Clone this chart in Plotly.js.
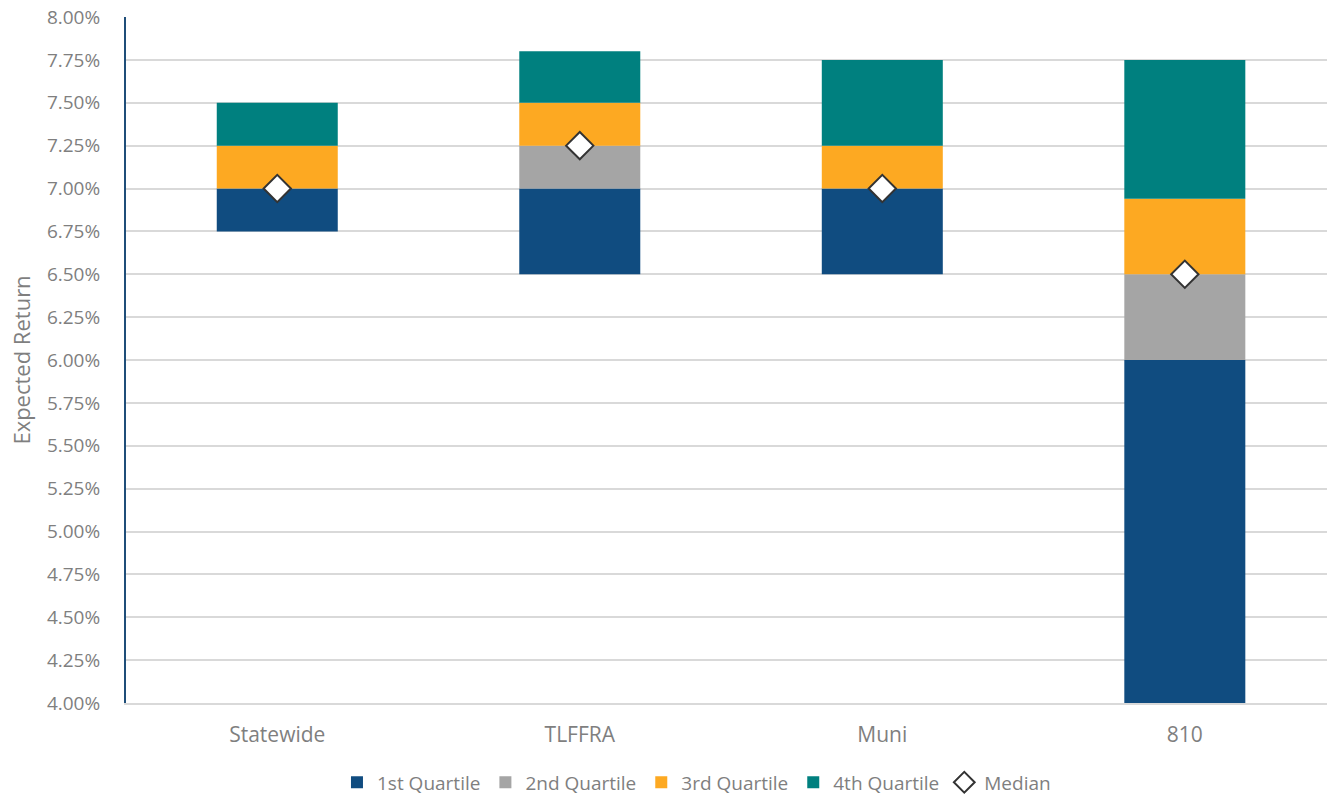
<!DOCTYPE html>
<html>
<head>
<meta charset="utf-8">
<script src="https://cdn.plot.ly/plotly-3.0.1.min.js"></script>
<style>html,body{margin:0;padding:0;background:#fff;}#chart{width:1327px;height:800px;}</style>
</head>
<body>
<div id="chart"></div>
<script>
const categories = ['Statewide', 'TLFFRA', 'Muni', '810'];
const minVals    = [6.75, 6.50, 6.50, 4.00];
const q1Vals     = [7.00, 7.00, 7.00, 6.00];
const medianVals = [7.00, 7.25, 7.00, 6.50];
const q3Vals     = [7.25, 7.50, 7.25, 6.94];
const maxVals    = [7.50, 7.80, 7.75, 7.75];
const seriesNames = ['1st Quartile', '2nd Quartile', '3rd Quartile', '4th Quartile', 'Median'];
const seriesColors = ['#104C80', '#A5A5A5', '#FDA922', '#00807F'];

const edges = [minVals, q1Vals, medianVals, q3Vals, maxVals];
const FONT = 'Open Sans, Noto Sans, sans-serif';
const TXT = '#7F7F7F';

const traces = [];
for (let i = 0; i < 4; i++) {
  const lo = edges[i], hi = edges[i + 1];
  traces.push({
    type: 'bar',
    name: seriesNames[i],
    x: categories,
    base: lo,
    y: hi.map((v, k) => v - lo[k]),
    width: 0.4,
    marker: {color: seriesColors[i], line: {width: 0}},
    hoverinfo: 'skip'
  });
}
traces.push({
  type: 'scatter',
  mode: 'markers',
  name: seriesNames[4],
  x: categories,
  y: medianVals,
  marker: {symbol: 'diamond', size: 21, color: '#FFFFFF', line: {color: '#333333', width: 2}},
  hoverinfo: 'skip'
});

const layout = {
  width: 1327, height: 800,
  paper_bgcolor: '#FFFFFF', plot_bgcolor: '#FFFFFF',
  margin: {l: 126, r: 0, t: 17, b: 97},
  barmode: 'overlay',
  showlegend: true,
  font: {family: FONT, color: TXT, size: 18},
  xaxis: {
    type: 'category',
    range: [-0.5, 3.47],
    showgrid: false,
    showline: true, linecolor: '#D9D9D9', linewidth: 2,
    ticks: '', ticklabelstandoff: 12,
    tickfont: {family: FONT, size: 21, color: TXT},
    fixedrange: true
  },
  yaxis: {
    range: [4, 8],
    dtick: 0.25, tick0: 4,
    tickformat: '.2f', ticksuffix: '%',
    showgrid: true, gridcolor: '#D9D9D9', gridwidth: 2,
    zeroline: false,
    showline: true, linecolor: '#1F4E79', linewidth: 2,
    ticks: '', ticklabelstandoff: 20,
    tickfont: {family: FONT, size: 19, color: TXT},
    title: {text: 'Expected Return', font: {family: FONT, size: 22, color: TXT}, standoff: 10},
    automargin: false,
    fixedrange: true
  },
  legend: {
    orientation: 'h',
    x: 0.475, xanchor: 'center',
    yref: 'container',
    y: 0.022, yanchor: 'middle',
    font: {family: FONT, size: 19, color: TXT},
    traceorder: 'normal',
    itemclick: false
  }
};

Plotly.newPlot('chart', traces, layout, {displayModeBar: false, staticPlot: true});
</script>
</body>
</html>
